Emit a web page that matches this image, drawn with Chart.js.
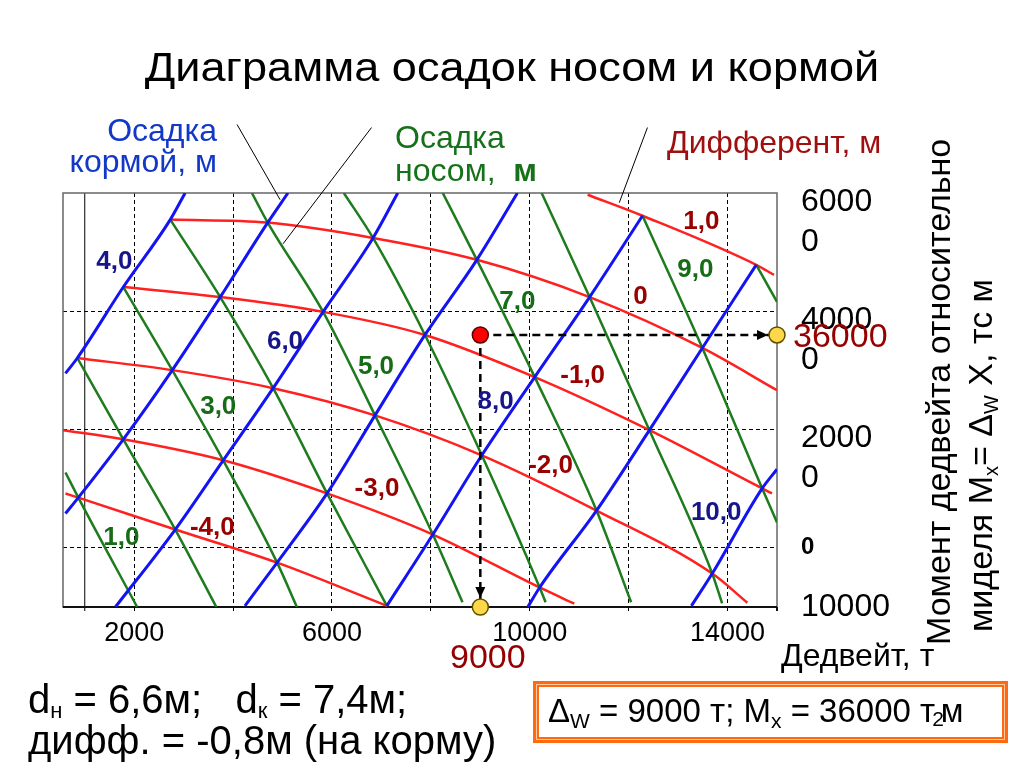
<!DOCTYPE html>
<html lang="ru">
<head>
<meta charset="utf-8">
<title>Диаграмма осадок носом и кормой</title>
<script src="https://cdn.jsdelivr.net/npm/chart.js@4.4.1/dist/chart.umd.min.js"></script>
<style>
    html, body { margin: 0; padding: 0; background: #fff; }
    #wrap { position: relative; width: 1024px; height: 767px; overflow: hidden; font-family: Arial, "Liberation Sans", sans-serif; color: #000; }
    #chartBox { position: absolute; left: 0; top: 0; width: 1024px; height: 767px; }
    .t { position: absolute; white-space: nowrap; }
    .rot { transform-origin: 0 0; transform: rotate(-90deg); }
    .sub { font-size: 22px; position: relative; top: 5px; }
    .sub2 { font-size: 21px; position: relative; top: 6px; }
    .sub3 { font-size: 20px; position: relative; top: 6px; }
    #resBox { position: absolute; left: 533px; top: 681px; width: 469px; height: 56px; border: 3px solid #ff6a10; box-shadow: inset 0 0 0 1px #ffc9a3, inset 0 0 0 3px #ff6a10; }
</style>
</head>
<body>
<div id="wrap">
    <div id="chartBox"><canvas id="draftChart"></canvas></div>

    <div class="t" style="left:0;width:1024px;text-align:center;top:47px;font-size:41px;line-height:41px;transform:scaleX(1.1)">Диаграмма осадок носом и кормой</div>

    <div class="t" style="left:17px;width:200px;text-align:right;top:115px;font-size:32px;line-height:31px;color:#1238c8">Осадка<br>кормой, м</div>
    <div class="t" style="left:395px;top:121px;font-size:32px;line-height:33px;color:#17701a">Осадка<br>носом,&nbsp; <b>м</b></div>
    <div class="t" style="left:667px;top:126px;font-size:32px;line-height:32px;color:#a00f0f">Дифферент, м</div>

    <div class="t" style="left:793px;top:318px;font-size:34px;line-height:34px;color:#960000">36000</div>
    <div class="t" style="left:450px;top:639px;font-size:34px;line-height:34px;color:#960000">9000</div>
    <div class="t" style="left:781px;top:639px;font-size:32px;line-height:32px">Дедвейт, т</div>

    <div class="t rot" style="left:921px;top:645px;font-size:34px;line-height:34px">Момент дедвейта относительно</div>
    <div class="t rot" style="left:963px;top:632px;font-size:34px;line-height:34px">миделя M<span class="sub3">x</span>= Δ<span class="sub3">W</span> X, тс м</div>

    <div class="t" style="left:28px;top:682px;font-size:40px;line-height:35px">d<span class="sub">н</span> = 6,6м;&nbsp;&nbsp; d<span class="sub">к</span> = 7,4м;<br>дифф. = -0,8м (на корму)</div>

    <div id="resBox"></div>
    <div class="t" style="left:548px;top:694px;font-size:33px;line-height:33px">Δ<span class="sub2">W</span> = 9000 т; M<span class="sub2">x</span> = 36000 т<span style="font-size:21px;position:relative;top:4px;margin:0 -3px">2</span>м</div>
</div>

<script>
const FONT = 'Arial, "Liberation Sans", sans-serif';

// Оси: дедвейт (т) и момент дедвейта (тс·м)
const dwMin = 560, dwMax = 15000;
const mxMin = -10000, mxMax = 60000;
const dwTicks = [2000, 4000, 6000, 8000, 10000, 12000, 14000];
const dwTickText = ['2000', '', '6000', '', '10000', '', '14000'];
const mxTicks = [-10000, 0, 20000, 40000, 60000];
const mxTickText = ['10000', '0', '20000', '40000', '60000'];
const mxGridLines = [0, 20000, 40000];
const axisLineDW = 1000;

// Осадка кормой 4..10 м (синие), точки [дедвейт, момент]
const sternLines = [
    [[610, 29500], [850, 32100], [1780, 44100], [2730, 55500], [3030, 60000]],
    [[610, 5800], [870, 8500], [1780, 18350], [2770, 30050], [3740, 42400], [4700, 55000], [5110, 60000]],
    [[1620, -10000], [2830, 3100], [3800, 14800], [4810, 27000], [5820, 39900], [6830, 52400], [7330, 60000]],
    [[4240, -9800], [4890, -2500], [5900, 9200], [6870, 22400], [7880, 36000], [8930, 48700], [9750, 60000]],
    [[7110, -9800], [8040, 2250], [9030, 15650], [10100, 28870], [11210, 42400], [12280, 56150]],
    [[9960, -10000], [10200, -6700], [11350, 6300], [12420, 19900], [13490, 33800], [14580, 47850]],
    [[13270, -9800], [13690, -4350], [14700, 10050], [15000, 13300]]
];

// Осадка носом 1..10 м (зелёные)
const bowLines = [
    [[610, 12750], [870, 8500], [2060, -10000]],
    [[850, 32100], [1780, 18350], [2830, 3100], [3660, -10000]],
    [[1780, 44100], [2770, 30050], [3800, 14800], [4890, -2500], [5290, -10000]],
    [[2730, 55500], [3740, 42400], [4810, 27000], [5900, 9200], [7110, -9800]],
    [[4380, 60000], [4700, 55000], [5820, 39900], [6870, 22400], [8040, 2250], [8640, -9200]],
    [[6240, 60000], [6830, 52400], [7880, 36000], [9030, 15650], [10200, -6700], [10320, -9200]],
    [[8240, 60000], [8930, 48700], [10100, 28870], [11350, 6300], [12050, -9200]],
    [[10240, 60000], [11210, 42400], [12420, 19900], [13690, -4350], [13890, -9400]],
    [[12280, 56150], [13490, 33800], [14700, 10050], [15000, 4300]],
    [[14580, 47850], [15000, 41600]]
];

// Дифферент +1 .. -4 м (красные)
const trimLines = [
    [[11170, 59700], [12280, 56150], [14580, 47850], [14940, 46150]],
    [[2730, 55500], [4700, 55000], [6830, 52400], [8930, 48700], [11210, 42400], [13490, 33800], [15000, 26650]],
    [[1780, 44100], [3740, 42400], [5820, 39900], [7880, 36000], [10100, 28870], [12420, 19900], [14700, 10050], [14900, 9200]],
    [[850, 32100], [2770, 30050], [4810, 27000], [6870, 22400], [9030, 15650], [11350, 6300], [13690, -4350], [14400, -9270]],
    [[560, 19900], [1780, 18350], [3800, 14800], [5900, 9200], [8040, 2250], [10200, -6700], [10900, -9440]],
    [[610, 9200], [870, 8500], [2830, 3100], [4890, -2500], [7110, -9800]]
];

// Подписи линий: [текст, дедвейт, момент]
const sternTags = [['4,0', 1600, 48350], ['6,0', 5050, 34800], ['8,0', 9310, 24630], ['10,0', 13770, 5980]];
const bowTags = [['1,0', 1740, 1750], ['3,0', 3700, 23780], ['5,0', 6890, 30560], ['7,0', 9750, 41580], ['9,0', 13350, 47000]];
const trimTags = [['1,0', 13470, 55140], ['0', 12240, 42430], ['-1,0', 11070, 29040], ['-2,0', 10420, 13950], ['-3,0', 6910, 10050], ['-4,0', 3580, 3440]];

// Выноски от заголовков к линиям
const pointerLines = [
    [[4080, 71580], [4950, 58870]],
    [[6800, 71070], [5010, 51410]],
    [[12380, 71070], [11810, 58360]]
];

// Пример: дедвейт 9000 т, момент 36000 тс·м
const exampleDW = 9000;
const exampleMx = 36000;

const COLORS = {
    stern: '#1414f2', bow: '#1e7b1e', trim: '#ff2020',
    sternTag: '#16168a', bowTag: '#176d17', trimTag: '#990000'
};

const lineSet = (pts, color, width) => ({
    data: pts.map(p => ({ x: p[0], y: p[1] })),
    borderColor: color,
    borderWidth: width,
    pointRadius: 0,
    fill: false,
    cubicInterpolationMode: 'monotone'
});

const datasets = [];
// маркеры примера (сверху)
datasets.push({
    data: [{ x: exampleDW, y: exampleMx }],
    showLine: false, pointRadius: 8, pointBackgroundColor: '#ff0000',
    pointBorderColor: '#5a0000', pointBorderWidth: 1.5, clip: false
});
datasets.push({
    data: [{ x: exampleDW, y: mxMin }, { x: dwMax, y: exampleMx }],
    showLine: false, pointRadius: 8, pointBackgroundColor: '#ffd84a',
    pointBorderColor: '#5f5000', pointBorderWidth: 1.5, clip: false
});
datasets.push({
    data: [{ x: exampleDW, y: exampleMx }, { x: dwMax, y: exampleMx }],
    borderColor: '#000', borderWidth: 2.5, borderDash: [8, 5], pointRadius: 0, clip: false
});
datasets.push({
    data: [{ x: exampleDW, y: exampleMx }, { x: exampleDW, y: mxMin }],
    borderColor: '#000', borderWidth: 2.5, borderDash: [8, 5], pointRadius: 0, clip: false
});
sternLines.forEach(l => datasets.push(lineSet(l, COLORS.stern, 3)));
bowLines.forEach(l => datasets.push(lineSet(l, COLORS.bow, 2.5)));
trimLines.forEach(l => datasets.push(lineSet(l, COLORS.trim, 2.5)));

// рамка, выноски, стрелки и подписи линий
const overlay = {
    id: 'overlay',
    beforeDatasetsDraw(chart) {
        const { ctx, chartArea: a, scales: { x } } = chart;
        ctx.save();
        const px = x.getPixelForValue(axisLineDW);
        ctx.strokeStyle = '#000';
        ctx.lineWidth = 1;
        ctx.beginPath();
        ctx.moveTo(px, a.top);
        ctx.lineTo(px, a.bottom + 4);
        ctx.stroke();
        ctx.strokeStyle = '#666';
        ctx.lineWidth = 1.5;
        ctx.strokeRect(a.left, a.top, a.right - a.left, a.bottom - a.top);
        ctx.strokeStyle = '#111';
        ctx.lineWidth = 2;
        ctx.beginPath();
        ctx.moveTo(a.left, a.bottom);
        ctx.lineTo(a.right, a.bottom);
        ctx.moveTo(a.right, a.bottom);
        ctx.lineTo(a.right, a.bottom + 4);
        ctx.stroke();
        ctx.restore();
    },
    afterDatasetsDraw(chart) {
        const { ctx, scales: { x, y } } = chart;
        ctx.save();

        ctx.strokeStyle = '#000';
        ctx.lineWidth = 1;
        pointerLines.forEach(([p, q]) => {
            ctx.beginPath();
            ctx.moveTo(x.getPixelForValue(p[0]), y.getPixelForValue(p[1]));
            ctx.lineTo(x.getPixelForValue(q[0]), y.getPixelForValue(q[1]));
            ctx.stroke();
        });

        const arrow = (fx, fy, tx, ty) => {
            const x0 = x.getPixelForValue(fx), y0 = y.getPixelForValue(fy);
            const x1 = x.getPixelForValue(tx), y1 = y.getPixelForValue(ty);
            const len = Math.hypot(x1 - x0, y1 - y0);
            const ux = (x1 - x0) / len, uy = (y1 - y0) / len;
            const tx0 = x1 - ux * 9, ty0 = y1 - uy * 9;
            const bx = tx0 - ux * 11, by = ty0 - uy * 11;
            ctx.beginPath();
            ctx.moveTo(tx0, ty0);
            ctx.lineTo(bx - uy * 5, by + ux * 5);
            ctx.lineTo(bx + uy * 5, by - ux * 5);
            ctx.closePath();
            ctx.fill();
        };
        ctx.fillStyle = '#000';
        arrow(exampleDW, exampleMx, dwMax, exampleMx);
        arrow(exampleDW, exampleMx, exampleDW, mxMin);

        ctx.font = 'bold 26px ' + FONT;
        ctx.textAlign = 'center';
        ctx.textBaseline = 'middle';
        const put = (tags, color) => {
            ctx.fillStyle = color;
            tags.forEach(t => ctx.fillText(t[0], x.getPixelForValue(t[1]), y.getPixelForValue(t[2])));
        };
        put(sternTags, COLORS.sternTag);
        put(bowTags, COLORS.bowTag);
        put(trimTags, COLORS.trimTag);
        ctx.restore();
    }
};

// подписи правой оси перенесены на две строки, как в оригинале
const mxLabel = (value) => {
    const s = mxTickText[mxTicks.indexOf(value)] ?? '';
    if (value > 0) return ['', s.slice(0, -1), s.slice(-1)];
    return [s, ''];
};

new Chart(document.getElementById('draftChart'), {
    type: 'line',
    data: { datasets },
    options: {
        responsive: true,
        maintainAspectRatio: false,
        animation: false,
        events: [],
        layout: { padding: { left: 63, top: 193, right: 127, bottom: 110 } },
        plugins: { legend: { display: false }, tooltip: { enabled: false } },
        scales: {
            x: {
                type: 'linear',
                position: 'bottom',
                min: dwMin,
                max: dwMax,
                afterBuildTicks: s => { s.ticks = dwTicks.map(v => ({ value: v })); },
                afterFit: s => { s.height = 50; },
                grid: { color: '#000', lineWidth: 1, tickLength: 4, tickColor: '#000' },
                border: { display: false, dash: [4, 3] },
                ticks: {
                    autoSkip: false,
                    maxRotation: 0,
                    padding: 6,
                    color: '#000',
                    font: { family: FONT, size: 27 },
                    callback: (v, i) => dwTickText[i] ?? ''
                }
            },
            y: {
                type: 'linear',
                position: 'right',
                min: mxMin,
                max: mxMax,
                afterBuildTicks: s => { s.ticks = mxTicks.map(v => ({ value: v })); },
                afterFit: s => { s.width = 120; },
                grid: {
                    drawTicks: false,
                    lineWidth: 1,
                    color: c => (c.tick && mxGridLines.includes(c.tick.value)) ? '#000' : 'rgba(0,0,0,0)'
                },
                border: { display: false, dash: [4, 3] },
                ticks: {
                    autoSkip: false,
                    padding: 24,
                    labelOffset: 9,
                    color: '#000',
                    font: c => {
                        const v = c.tick ? c.tick.value : 1;
                        if (v === 0) return { family: FONT, size: 24, weight: 'bold', lineHeight: '18px' };
                        if (v < 0) return { family: FONT, size: 32, lineHeight: '18px' };
                        return { family: FONT, size: 32, lineHeight: '40px' };
                    },
                    callback: (v) => mxLabel(v)
                }
            }
        }
    },
    plugins: [overlay]
});
</script>
</body>
</html>
